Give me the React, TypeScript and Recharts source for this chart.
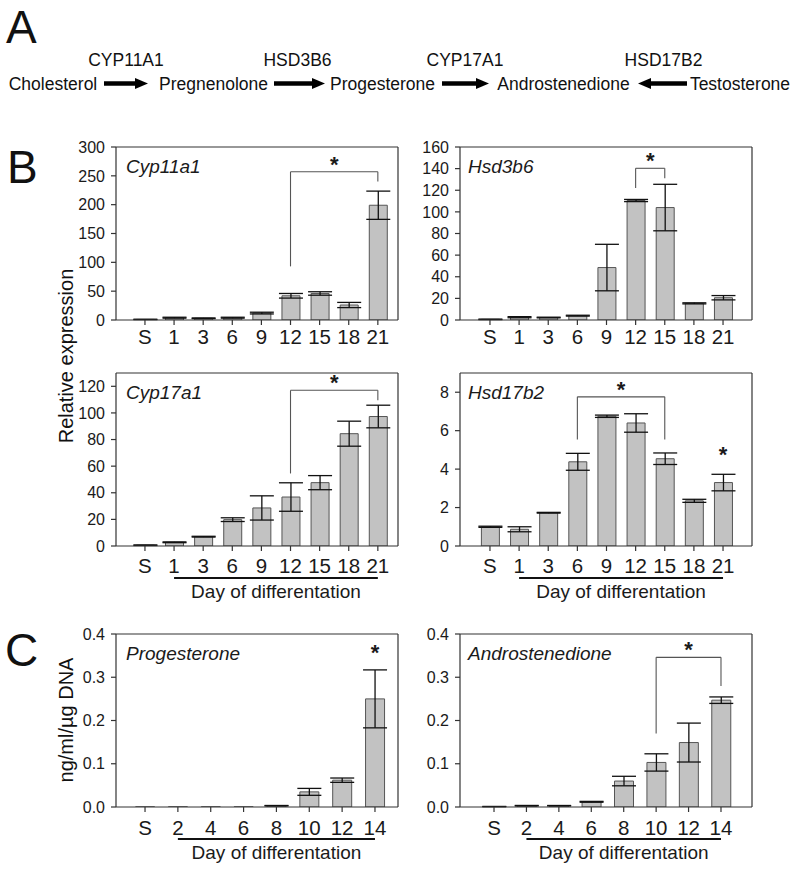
import React from 'react';
import { BarChart, Bar, XAxis, YAxis, ErrorBar, ReferenceLine, ReferenceDot } from 'recharts';

const FONT = '"Liberation Sans", Arial, Helvetica, sans-serif';
const INK = '#1a1a1a';
const FRAME = '#333';

// day labels
const daysB = ['S', '1', '3', '6', '9', '12', '15', '18', '21'];
const daysC = ['S', '2', '4', '6', '8', '10', '12', '14'];

// B: relative expression (mean, error)
const cyp11a1Mean = [1, 4, 3, 4, 12, 42, 46, 26, 199];
const cyp11a1Err = [0.3, 0.8, 0.6, 0.8, 1.5, 4, 3, 4.5, 24.5];
const hsd3b6Mean = [0.6, 2.6, 2.3, 4, 48.5, 110.5, 104, 15.4, 20.6];
const hsd3b6Err = [0.2, 0.5, 0.3, 0.4, 21.5, 1, 21.5, 0.5, 2];
const cyp17a1Mean = [0.6, 2.8, 7, 19.8, 28.6, 36.8, 47.6, 84.4, 97.3];
const cyp17a1Err = [0.2, 0.3, 0.3, 1.4, 9.1, 10.7, 5.3, 9.4, 8.5];
const hsd17b2Mean = [1.0, 0.87, 1.73, 4.38, 6.75, 6.4, 4.54, 2.35, 3.3];
const hsd17b2Err = [0.03, 0.13, 0.02, 0.44, 0.06, 0.48, 0.3, 0.08, 0.43];

// C: steroid output, ng/ml/ug DNA
const progMean = [0.0003, 0.0004, 0.0004, 0.0004, 0.003, 0.035, 0.062, 0.25];
const progErr = [0, 0, 0, 0, 0.0005, 0.008, 0.005, 0.067];
const androMean = [0.001, 0.003, 0.003, 0.012, 0.06, 0.103, 0.149, 0.247];
const androErr = [0.0003, 0.0006, 0.0005, 0.001, 0.011, 0.02, 0.045, 0.0075];

// y ticks
const ticksCyp11a1 = [0, 50, 100, 150, 200, 250, 300];
const ticksHsd3b6 = [0, 20, 40, 60, 80, 100, 120, 140, 160];
const ticksCyp17a1 = [0, 20, 40, 60, 80, 100, 120];
const ticksHsd17b2 = [0, 2, 4, 6, 8];
const ticksSteroid = [0, 0.1, 0.2, 0.3, 0.4];

// significance brackets (data units)
const bracketCyp11a1 = { from: '12', to: '21', fromY: 93, toY: 240, top: 257 };
const bracketHsd3b6 = { from: '12', to: '15', fromY: 122, toY: 131, top: 140.3 };
const bracketCyp17a1 = { from: '12', to: '21', fromY: 54.5, toY: 109.5, top: 117 };
const bracketHsd17b2 = { from: '6', to: '15', fromY: 5.54, toY: 5.54, top: 7.76 };
const bracketAndro = { from: '10', to: '14', fromY: 0.17, toY: 0.28, top: 0.346 };
const starHsd17b2 = { day: '21', y: 5.04 };
const starProg = { day: '14', y: 0.368 };

type Bracket = { from: string; to: string; fromY: number; toY: number; top: number };
type Star = { day: string; y: number };

type PanelProps = {
  boxX: number; boxY: number; boxW: number; boxH: number;
  days: string[]; mean: number[]; err: number[];
  yMax: number; yTicks: number[]; yFmt?: (v: number) => string;
  padL: number; padR: number; barSize: number;
  title: string; bracket?: Bracket; star?: Star;
  dayAxis: boolean; tickGap: number;
};

const LEFT = 60, TOP = 20, RIGHT = 12, AXIS_H = 72;

const Panel = (p: PanelProps) => {
  const rows = p.days.map((d, i) => ({ day: d, mean: p.mean[i], err: p.err[i] }));
  const n = p.days.length;
  const band = (p.boxW - p.padL - p.padR) / n;

  const renderTick = (t: any) => {
    const { x, y, payload, index } = t;
    const axisY = y - 5 - p.tickGap;
    return (
      <g>
        <text x={x} y={y} dy="0.71em" textAnchor="middle" fontSize={20.5} fill={INK} fontFamily={FONT}>
          {payload.value}
        </text>
        {p.dayAxis && index === 1 && (
          <g>
            <line x1={x} x2={x + (n - 2) * band} y1={axisY + 32} y2={axisY + 32} stroke="#111" strokeWidth={2} />
            <text x={x + ((n - 2) * band) / 2} y={axisY + 52} textAnchor="middle" fontSize={19} fill={INK} fontFamily={FONT}>
              Day of differentation
            </text>
          </g>
        )}
      </g>
    );
  };

  const b = p.bracket;
  const line = { stroke: '#555', strokeWidth: 1.1 };
  const frame = { stroke: FRAME, strokeWidth: 1.2 };

  return (
    <div style={{ position: 'absolute', left: p.boxX - LEFT, top: p.boxY - TOP }}>
      <BarChart
        width={LEFT + p.boxW + RIGHT}
        height={TOP + p.boxH + AXIS_H}
        data={rows}
        margin={{ top: TOP - 1, right: RIGHT - 1, bottom: 0, left: 0 }}
      >
        <XAxis
          dataKey="day"
          interval={0}
          padding={{ left: p.padL, right: p.padR }}
          height={AXIS_H}
          tickSize={5}
          tickMargin={p.tickGap}
          tick={renderTick}
          axisLine={frame}
          tickLine={frame}
        />
        <XAxis xAxisId="top" dataKey="day" orientation="top" height={1} tick={false} tickLine={false} axisLine={frame} />
        <YAxis
          domain={[0, p.yMax]}
          ticks={p.yTicks}
          interval={0}
          width={LEFT}
          tickSize={5}
          tickMargin={6}
          tick={{ fontSize: 16, fill: INK, fontFamily: FONT }}
          tickFormatter={p.yFmt}
          axisLine={frame}
          tickLine={frame}
          allowDataOverflow
        />
        <YAxis yAxisId="right" orientation="right" width={1} domain={[0, p.yMax]} tick={false} tickLine={false} axisLine={frame} />
        <Bar dataKey="mean" barSize={p.barSize} fill="#c2c2c2" stroke="#555" strokeWidth={1} isAnimationActive={false}>
          <ErrorBar dataKey="err" width={12} stroke="#111" strokeWidth={1.3} direction="y" isAnimationActive={false} />
        </Bar>
        {b && (
          <ReferenceLine segment={[{ x: b.from, y: b.fromY }, { x: b.from, y: b.top }]} {...line} />
        )}
        {b && (
          <ReferenceLine
            segment={[{ x: b.from, y: b.top }, { x: b.to, y: b.top }]}
            {...line}
            label={{ value: '*', position: 'top', offset: 0, fontSize: 22, fontWeight: 'bold', fill: INK, fontFamily: FONT }}
          />
        )}
        {b && (
          <ReferenceLine segment={[{ x: b.to, y: b.top }, { x: b.to, y: b.toY }]} {...line} />
        )}
        {p.star && (
          <ReferenceDot
            x={p.star.day}
            y={p.star.y}
            r={0}
            shape={(s: any) => (
              <text x={s.cx} y={s.cy + 12.6} textAnchor="middle" fontSize={22} fontWeight="bold" fill={INK} fontFamily={FONT}>*</text>
            )}
          />
        )}
      </BarChart>
      <svg
        width={LEFT + p.boxW + RIGHT}
        height={TOP + 40}
        style={{ position: 'absolute', left: 0, top: 0, pointerEvents: 'none' }}
      >
        <text x={LEFT + (p.boxX < 300 ? 10 : 8)} y={TOP + 25.5} fontSize={19} fontStyle="italic" fill={INK} fontFamily={FONT}>
          {p.title}
        </text>
      </svg>
    </div>
  );
};

const Arrow = ({ x1, x2, y }: { x1: number; x2: number; y: number }) => {
  const dir = Math.sign(x2 - x1);
  const head = 13;
  return (
    <g>
      <line x1={x1} y1={y} x2={x2 - dir * head} y2={y} stroke="#000" strokeWidth={4.5} />
      <polygon points={`${x2},${y} ${x2 - dir * head},${y - 5.5} ${x2 - dir * head},${y + 5.5}`} fill="#000" />
    </g>
  );
};

const fmt1 = (v: number) => v.toFixed(1);

export default function App() {
  return (
    <div style={{ position: 'absolute', left: 0, top: 0, width: 800, height: 873, background: '#fff', fontFamily: FONT }}>
      <Panel boxX={116} boxY={147} boxW={282} boxH={173} days={daysB} mean={cyp11a1Mean} err={cyp11a1Err}
        yMax={300} yTicks={ticksCyp11a1} padL={14.4} padR={5.6} barSize={18} title="Cyp11a1"
        bracket={bracketCyp11a1} dayAxis={false} tickGap={4} />
      <Panel boxX={460} boxY={147} boxW={292} boxH={173} days={daysB} mean={hsd3b6Mean} err={hsd3b6Err}
        yMax={160} yTicks={ticksHsd3b6} padL={15.4} padR={14.4} barSize={18} title="Hsd3b6"
        bracket={bracketHsd3b6} dayAxis={false} tickGap={4} />
      <Panel boxX={116} boxY={373} boxW={282} boxH={173} days={daysB} mean={cyp17a1Mean} err={cyp17a1Err}
        yMax={130} yTicks={ticksCyp17a1} padL={14.4} padR={5.6} barSize={18} title="Cyp17a1"
        bracket={bracketCyp17a1} dayAxis tickGap={7} />
      <Panel boxX={460} boxY={373} boxW={292} boxH={173} days={daysB} mean={hsd17b2Mean} err={hsd17b2Err}
        yMax={9} yTicks={ticksHsd17b2} padL={15.4} padR={14.4} barSize={18} title="Hsd17b2"
        bracket={bracketHsd17b2} star={starHsd17b2} dayAxis tickGap={7} />
      <Panel boxX={116} boxY={634} boxW={282} boxH={173} days={daysC} mean={progMean} err={progErr}
        yMax={0.4} yTicks={ticksSteroid} yFmt={fmt1} padL={12.6} padR={6.6} barSize={19} title="Progesterone"
        star={starProg} dayAxis tickGap={8} />
      <Panel boxX={460} boxY={634} boxW={292} boxH={173} days={daysC} mean={androMean} err={androErr}
        yMax={0.4} yTicks={ticksSteroid} yFmt={fmt1} padL={17.8} padR={14.8} barSize={19} title="Androstenedione"
        bracket={bracketAndro} dayAxis tickGap={8} />

      <svg width={800} height={873} style={{ position: 'absolute', left: 0, top: 0, pointerEvents: 'none' }} fontFamily={FONT}>
        <g fontSize={46} fill="#111">
          <text x={6} y={43}>A</text>
          <text x={7} y={183}>B</text>
          <text x={5} y={666}>C</text>
        </g>
        <g fontSize={17.5} fill="#111" textAnchor="middle">
          <text x={126} y={66}>CYP11A1</text>
          <text x={297.5} y={66}>HSD3B6</text>
          <text x={465} y={66}>CYP17A1</text>
          <text x={663.5} y={66}>HSD17B2</text>
          <text x={53} y={90}>Cholesterol</text>
          <text x={213.5} y={90}>Pregnenolone</text>
          <text x={382.5} y={90}>Progesterone</text>
          <text x={563.5} y={90}>Androstenedione</text>
          <text x={740} y={90}>Testosterone</text>
        </g>
        <Arrow x1={104} x2={148} y={83.5} />
        <Arrow x1={274} x2={325} y={83.5} />
        <Arrow x1={442} x2={489} y={83.5} />
        <Arrow x1={687} x2={638} y={83.5} />
        <text transform="translate(73,356) rotate(-90)" textAnchor="middle" fontSize={20} fill="#111">
          Relative expression
        </text>
        <text transform="translate(73,720) rotate(-90)" textAnchor="middle" fontSize={20} fill="#111">
          ng/ml/µg DNA
        </text>
      </svg>
    </div>
  );
}
